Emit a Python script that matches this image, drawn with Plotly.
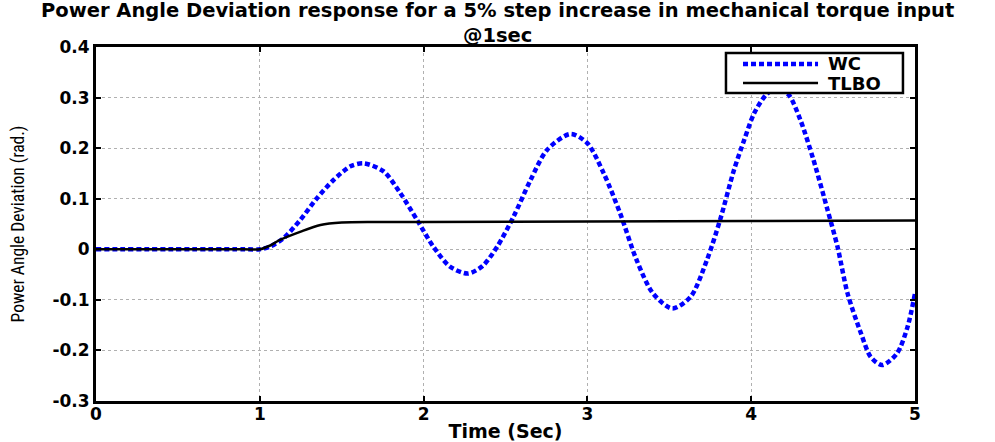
import plotly.graph_objects as go

# Time axis samples (s) and responses (rad)
t_wc = [0.0, 0.9, 1.0, 1.06, 1.145, 1.247, 1.349, 1.45, 1.553, 1.634, 1.756, 1.858,
        1.96, 2.06, 2.16, 2.27, 2.36, 2.449, 2.55, 2.653, 2.755, 2.897, 2.999, 3.1,
        3.2, 3.3, 3.4, 3.518, 3.63, 3.73, 3.81, 3.895, 3.957, 4.018, 4.09, 4.16,
        4.23, 4.30, 4.38, 4.466, 4.527, 4.588, 4.67, 4.73, 4.80, 4.89, 4.955, 5.0]
wc = [0.0, 0.0, 0.0, 0.005, 0.022, 0.058, 0.101, 0.137, 0.164, 0.170, 0.154, 0.111,
      0.058, 0.005, -0.034, -0.048, -0.033, 0.005, 0.065, 0.137, 0.197, 0.228, 0.210, 0.150,
      0.071, -0.021, -0.087, -0.117, -0.094, -0.021, 0.058, 0.157, 0.216, 0.269, 0.305, 0.320,
      0.305, 0.256, 0.177, 0.078, 0.005, -0.087, -0.166, -0.213, -0.229, -0.206, -0.153, -0.087]

t_tlbo = [0.0, 0.9, 1.0, 1.06, 1.12, 1.25, 1.37, 1.5, 1.7, 2.0, 3.0, 4.0, 5.0]
tlbo = [0.0, 0.0, 0.0, 0.007, 0.018, 0.035, 0.048, 0.053, 0.054, 0.054, 0.055, 0.056, 0.057]

x_ticks = [0, 1, 2, 3, 4, 5]
y_ticks = [-0.3, -0.2, -0.1, 0, 0.1, 0.2, 0.3, 0.4]
y_tick_text = ["-0.3", "-0.2", "-0.1", "0", "0.1", "0.2", "0.3", "0.4"]

title_lines = ["Power Angle Deviation response for a 5% step increase in mechanical torque input",
               "@1sec"]
series_names = ["WC", "TLBO"]
series_colors = ["#0000ff", "black"]

wide_bold = "DejaVu Sans"
narrow = "Liberation Sans Narrow, Roboto Condensed, DejaVu Sans Condensed"

fig = go.Figure()
fig.add_trace(go.Scatter(
    x=t_wc, y=wc, name=series_names[0], mode="lines", showlegend=False,
    line=dict(color=series_colors[0], width=4.5, dash="5px,3px", shape="spline", smoothing=0.8),
))
fig.add_trace(go.Scatter(
    x=t_tlbo, y=tlbo, name=series_names[1], mode="lines", showlegend=False,
    line=dict(color=series_colors[1], width=2.5, shape="spline", smoothing=0.8),
))

axis_common = dict(
    showline=True, linecolor="black", linewidth=3, mirror="ticks",
    ticks="inside", ticklen=5, tickwidth=2, tickcolor="black",
    showgrid=True, gridcolor="#b0b0b0", gridwidth=1, griddash="dot",
    zeroline=False, automargin=False,
    tickfont=dict(family=wide_bold, size=17, color="black", weight="bold"),
)

# Two-line heading above the axes
annotations = [
    dict(text="<br>".join(title_lines), xref="paper", yref="paper", x=0.490, y=1.0692,
         xanchor="center", yanchor="middle", showarrow=False,
         font=dict(family=wide_bold, size=19.5, color="black", weight="bold")),
]

# Boxed key in the upper right corner of the axes
key_x0, key_x1, key_y0, key_y1 = 0.7692, 0.9853, 0.8701, 0.9831
key_line_x = (0.790, 0.8816)
key_rows_y = [0.952, 0.8983]
shapes = [dict(type="rect", xref="paper", yref="paper", x0=key_x0, x1=key_x1,
               y0=key_y0, y1=key_y1, fillcolor="white", layer="above",
               line=dict(color="black", width=2.5))]
shapes.append(dict(type="line", xref="paper", yref="paper", layer="above",
                   x0=key_line_x[0], x1=key_line_x[1], y0=key_rows_y[0], y1=key_rows_y[0],
                   line=dict(color=series_colors[0], width=4.5, dash="5px,3px")))
shapes.append(dict(type="line", xref="paper", yref="paper", layer="above",
                   x0=key_line_x[0], x1=key_line_x[1], y0=key_rows_y[1], y1=key_rows_y[1],
                   line=dict(color=series_colors[1], width=2.5)))
for name, ky in zip(series_names, key_rows_y):
    annotations.append(dict(text=name, xref="paper", yref="paper", x=0.8913, y=ky,
                            xanchor="left", yanchor="middle", showarrow=False,
                            font=dict(family=wide_bold, size=18, color="black", weight="bold")))

fig.update_layout(
    width=995, height=442,
    margin=dict(l=96, r=80, t=47, b=41, autoexpand=False),
    paper_bgcolor="white", plot_bgcolor="white",
    xaxis=dict(
        range=[0, 5], tickvals=x_ticks,
        ticklabelstandoff=-4,
        title=dict(text="Time (Sec)", standoff=2,
                   font=dict(family=wide_bold, size=19, color="black", weight="bold")),
        **axis_common,
    ),
    yaxis=dict(
        range=[-0.3, 0.4], tickvals=y_ticks, ticktext=y_tick_text,
        title=dict(text="Power Angle Deviation (rad.)", standoff=24,
                   font=dict(family=narrow, size=17.5, color="black")),
        **axis_common,
    ),
    annotations=annotations,
    shapes=shapes,
    showlegend=False,
)

fig.write_html("out.html")
